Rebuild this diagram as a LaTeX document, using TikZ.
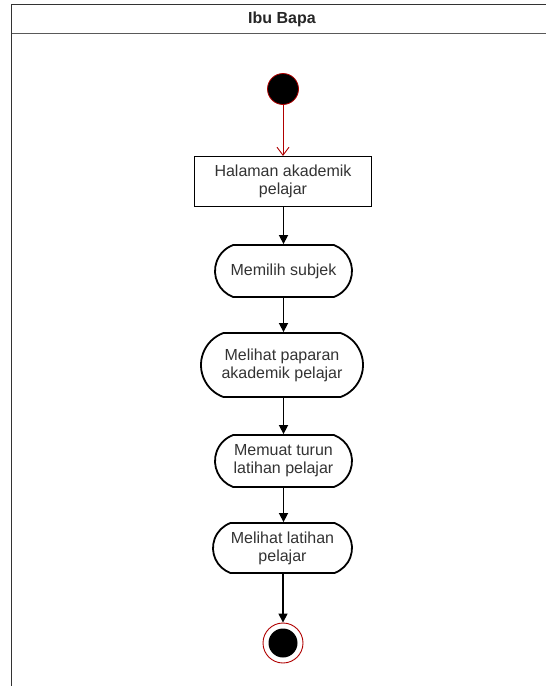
\documentclass[tikz,border=0pt]{standalone}
\usepackage{fontspec}
\setmainfont{Liberation Sans}
\usetikzlibrary{arrows.meta,shapes.misc}
\definecolor{txt}{HTML}{333333}
\definecolor{startred}{HTML}{B00000}
\begin{document}
\begin{tikzpicture}[x=1pt,y=-1pt,
  every node/.style={font=\fontsize{16}{18}\selectfont, text=txt, align=center, inner sep=0pt},
  lane/.style={line width=1.4pt, draw=black!80},
  actbox/.style={draw=black, line width=1.1pt, minimum width=177pt, minimum height=50pt},
  actpill/.style={draw=black, line width=1.8pt, rounded rectangle, rounded rectangle arc length=140},
  flow/.style={line width=1.5pt, -{Triangle[length=9pt,width=9pt]}},
  initflow/.style={draw=startred, line width=0.9pt, -{Straight Barb[length=8pt,width=12pt]}}]
\useasboundingbox (0,0) rectangle (546,686);
\fill[white] (0,0) rectangle (546,686);

% swimlane frame with its title bar
\draw[lane] (546,4.5) -- (11.5,4.5) -- (11.5,686);
\draw[lane, draw=black!65] (11.5,33.5) -- (546,33.5);
\node[font=\fontsize{16}{18}\selectfont\bfseries, text=black!85] (lane) at (282,19) {Ibu Bapa};

% initial node
\node[circle, fill=black, draw=startred, line width=0.8pt, minimum size=31pt] (start) at (283,89) {};

% activities
\node[actbox] (halaman) at (283,181.5) {Halaman akademik\\pelajar};
\node[actpill, minimum width=137pt, minimum height=52pt] (subjek) at (283.5,271) {Memilih subjek};
\node[actpill, minimum width=162pt, minimum height=64pt] (paparan) at (282,365) {Melihat paparan\\akademik pelajar};
\node[actpill, minimum width=137pt, minimum height=52pt] (muat) at (283.5,461) {Memuat turun\\latihan pelajar};
\node[actpill, minimum width=139pt, minimum height=50pt] (latihan) at (282.5,548) {Melihat latihan\\pelajar};

% final node
\node[circle, draw=startred, line width=0.9pt, fill=white, minimum size=40pt] (final) at (283,643) {};
\node[circle, fill=black, minimum size=29pt] (finaldot) at (final) {};

% control flow
\draw[initflow] (start) -- (halaman.north -| start);
\draw[flow] (halaman.south -| subjek) -- (subjek.north);
\draw[flow] (subjek.south) -- (paparan.north -| subjek);
\draw[flow] (paparan.south -| subjek) -- (muat.north);
\draw[flow] (muat.south) -- (latihan.north -| muat);
\draw[flow] (latihan.south -| final) -- (final.north);
\end{tikzpicture}
\end{document}
